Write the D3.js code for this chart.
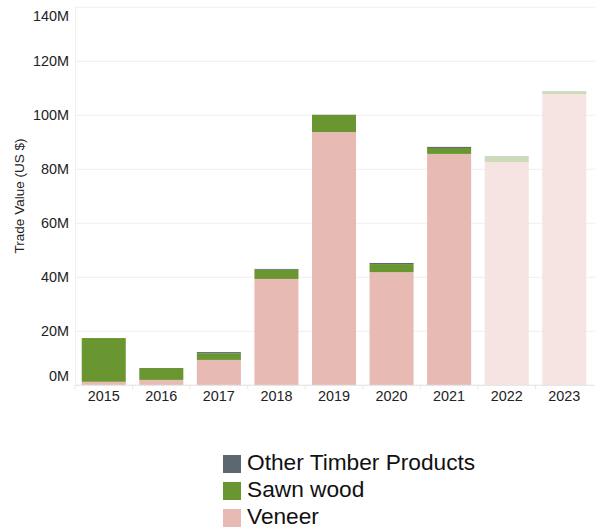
<!DOCTYPE html>
<html><head><meta charset="utf-8">
<script src="https://cdn.jsdelivr.net/npm/d3@7/dist/d3.min.js"></script>
<style>body{margin:0;background:#fff;}svg{display:block;font-family:"Liberation Sans",Arial,sans-serif;}</style>
</head><body><svg id="c" width="595" height="529"></svg>
<script>
const years = ["2015","2016","2017","2018","2019","2020","2021","2022","2023"];
const veneer = [1.3, 2.0, 9.4, 39.4, 93.8, 41.9, 85.7, 82.7, 107.9];
const sawnWood = [16.2, 4.4, 2.5, 3.4, 6.3, 3.0, 2.2, 1.9, 1.0];
const otherTimber = [0.0, 0.0, 0.4, 0.3, 0.1, 0.4, 0.4, 0.3, 0.1];
const faded = [false,false,false,false,false,false,false,true,true];
const yTicks = [0,20,40,60,80,100,120,140];
const seriesNames = ["Other Timber Products","Sawn wood","Veneer"];
const colors = {"Veneer":"#e8bab4","Sawn wood":"#6a9631","Other Timber Products":"#5d6771"};
const fadedColors = {"Veneer":"#f5e4e1","Sawn wood":"#cbdcb6","Other Timber Products":"#c4c8cc"};

const svg = d3.select("#c");
const m = {l:75, r:593, t:7.3, b:385.3};
const x = d3.scaleBand().domain(years).range([m.l, m.r]).paddingInner(0.235).paddingOuter(0.117);
const y = d3.scaleLinear().domain([0,140]).range([m.b, m.t]);

// grid
svg.append("g").selectAll("line").data(yTicks).join("line")
  .attr("x1", m.l).attr("x2", 595).attr("y1", d=>y(d)).attr("y2", d=>y(d))
  .attr("stroke", "#efefef").attr("stroke-width", 1);
svg.append("line").attr("x1", m.l+0.5).attr("x2", m.l+0.5).attr("y1", 7).attr("y2", m.b)
  .attr("stroke","#f0f0f0");

// y labels
svg.append("g").selectAll("text").data(yTicks).join("text")
  .attr("x", 69).attr("y", d=> d===140 ? y(d)+10 : (d===0 ? y(d)-8 : y(d)+1))
  .attr("text-anchor","end").attr("dominant-baseline","middle")
  .attr("font-size", 14.4).attr("fill","#222")
  .text(d=> d3.format("d")(d)+"M");

svg.append("text").attr("transform","translate(24,196) rotate(-90)")
  .attr("text-anchor","middle").attr("font-size",13.5).attr("fill","#222")
  .text("Trade Value (US $)");

// stacked bars
const rows = years.map((yr,i)=>({year:yr, "Veneer":veneer[i], "Sawn wood":sawnWood[i], "Other Timber Products":otherTimber[i], faded:faded[i]}));
const stack = d3.stack().keys(["Veneer","Sawn wood","Other Timber Products"]);
const stacked = stack(rows);
stacked.forEach(s=>{
  svg.append("g").selectAll("rect").data(s).join("rect")
    .attr("x", d=>x(d.data.year)).attr("width", x.bandwidth())
    .attr("y", d=>y(d[1])).attr("height", d=>Math.max(0, y(d[0])-y(d[1])))
    .attr("fill", d=> d.data.faded ? fadedColors[s.key] : colors[s.key]);
});

// x axis baseline
svg.append("line").attr("x1", m.l).attr("x2", 595).attr("y1", m.b).attr("y2", m.b).attr("stroke","#e6e6e6");
const step = x.step();
svg.append("g").selectAll("line").data(years.slice(0)).join("line")
  .attr("x1", d=>x(d)-(step-x.bandwidth())/2).attr("x2", d=>x(d)-(step-x.bandwidth())/2)
  .attr("y1", m.b).attr("y2", m.b+4).attr("stroke","#e6e6e6");

svg.append("g").selectAll("text").data(years).join("text")
  .attr("x", d=>x(d)+x.bandwidth()/2).attr("y", 401)
  .attr("text-anchor","middle").attr("font-size",14.4).attr("fill","#222").text(d=>d);

// legend
const lg = svg.append("g");
seriesNames.forEach((n,i)=>{
  const yy = 455 + i*27;
  lg.append("rect").attr("x",223).attr("y",yy).attr("width",18).attr("height",18).attr("fill",colors[n]);
  lg.append("text").attr("x",247).attr("y",yy+9).attr("dominant-baseline","middle")
    .attr("font-size",22.7).attr("fill","#111").text(n);
});
</script></body></html>
